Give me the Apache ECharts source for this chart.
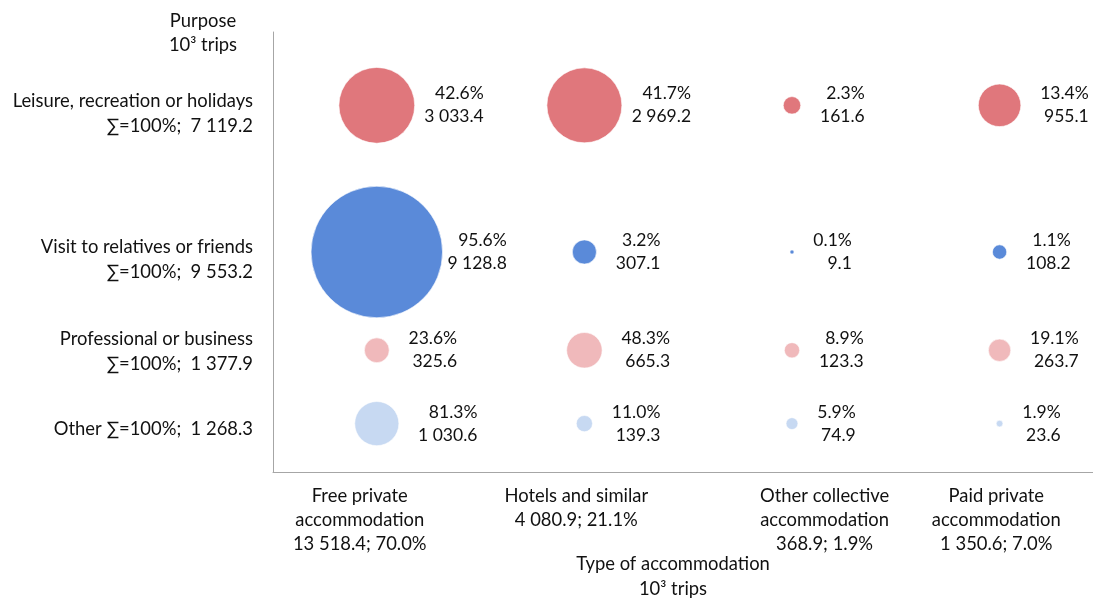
<!DOCTYPE html>
<html>
<head>
<meta charset="utf-8">
<script src="https://cdn.jsdelivr.net/npm/echarts@6/dist/echarts.min.js"></script>
<style>
html,body{margin:0;padding:0;background:#fff;}
#chart{width:1093px;height:599px;}
</style>
</head>
<body>
<div id="chart"></div>
<script>
// ---- data ----
const accommodation = ['Free private\naccommodation', 'Hotels and similar', 'Other collective\naccommodation', 'Paid private\naccommodation'];
const accTotals = [13518.4, 4080.9, 368.9, 1350.6];
const accShares = [70.0, 21.1, 1.9, 7.0];
const colPos = [1, 2, 3, 4];

const purposes = ['Leisure, recreation or holidays', 'Visit to relatives or friends', 'Professional or business', 'Other'];
const purposeTotals = [7119.2, 9553.2, 1377.9, 1268.3];
const purposeSep = ['\n', '\n', '\n', ' '];
const rowPos = [5, 3, 1.66, 0.66];

const leisureTrips = [3033.4, 2969.2, 161.6, 955.1];
const leisurePct = [42.6, 41.7, 2.3, 13.4];
const visitTrips = [9128.8, 307.1, 9.1, 108.2];
const visitPct = [95.6, 3.2, 0.1, 1.1];
const businessTrips = [325.6, 665.3, 123.3, 263.7];
const businessPct = [23.6, 48.3, 8.9, 19.1];
const otherTrips = [1030.6, 139.3, 74.9, 23.6];
const otherPct = [81.3, 11.0, 5.9, 1.9];

// ---- layout / style ----
const FONT = 'Lato, "DejaVu Sans", sans-serif';
const FS = 17.5;      // bubble labels
const FS_AX = 18.4;   // axis labels and titles
const TXT = '#111';
const xLabelAt = [0.918, 1.961, 3.157, 3.984];
const yLabelAt = [4.89, 2.895, 1.647, 0.582];
const colors = ['#E0777C', '#5A8AD9', '#F0B9BB', '#C7D9F2'];
const maxTrips = Math.max(...visitTrips, ...leisureTrips, ...businessTrips, ...otherTrips);
const MAX_D = 131.5;

function fmt(v) {
  const s = v.toFixed(1);
  const parts = s.split('.');
  return parts[0].replace(/\B(?=(\d{3})+(?!\d))/g, ' ') + '.' + parts[1];
}
function diam(v) { return MAX_D * Math.sqrt(v / maxTrips); }
function nearestIdx(arr, v) {
  let best = 0;
  for (let i = 1; i < arr.length; i++) if (Math.abs(arr[i] - v) < Math.abs(arr[best] - v)) best = i;
  return best;
}

const seriesSets = [
  [leisureTrips, leisurePct],
  [visitTrips, visitPct],
  [businessTrips, businessPct],
  [otherTrips, otherPct]
];

const series = seriesSets.map(function (set, r) {
  const trips = set[0], pct = set[1];
  return {
    type: 'scatter',
    name: purposes[r],
    itemStyle: { color: colors[r], borderColor: '#fff', borderWidth: 0.6, opacity: 1 },
    symbolSize: function (val) { return diam(val[2]); },
    data: trips.map(function (v, c) {
      const rad = diam(v) / 2;
      const gap = rad <= 22 ? 19 : 19 * Math.pow(22 / rad, 1.3);
      return {
        value: [colPos[c], rowPos[r], v, pct[c]],
        label: { distance: gap }
      };
    }),
    label: {
      show: true,
      position: 'right',
      formatter: function (p) {
        return '{r|' + p.value[3].toFixed(1) + '%}\n{r|' + fmt(p.value[2]) + '}';
      },
      rich: {
        r: { align: 'right', fontFamily: FONT, fontSize: FS, color: TXT, lineHeight: 23 }
      }
    },
    emphasis: { disabled: true },
    z: 2
  };
});

const chart = echarts.init(document.getElementById('chart'), null, { renderer: 'canvas' });
chart.setOption({
  animation: false,
  backgroundColor: '#fff',
  grid: { left: 273, top: 32, right: 0, bottom: 127, containLabel: false },
  xAxis: {
    type: 'value',
    min: 0.5,
    max: 4.45,
    axisLine: { show: true, lineStyle: { color: '#A6A6A6', width: 1 } },
    axisTick: { show: false },
    splitLine: { show: false },
    axisLabel: {
      customValues: xLabelAt,
      margin: 12,
      fontFamily: FONT,
      fontSize: FS_AX,
      color: TXT,
      lineHeight: 24,
      formatter: function (v) {
        const i = nearestIdx(xLabelAt, v);
        return accommodation[i] + '\n' + fmt(accTotals[i]) + '; ' + accShares[i].toFixed(1) + '%';
      }
    }
  },
  yAxis: {
    type: 'value',
    min: 0,
    max: 6,
    axisLine: { show: true, lineStyle: { color: '#A6A6A6', width: 1 } },
    axisTick: { show: false },
    splitLine: { show: false },
    axisLabel: {
      customValues: yLabelAt,
      margin: 20,
      fontFamily: FONT,
      fontSize: FS_AX,
      color: TXT,
      lineHeight: 25,
      formatter: function (v) {
        const i = nearestIdx(yLabelAt, v);
        return purposes[i] + purposeSep[i] + '\u2211=100%;  ' + fmt(purposeTotals[i]);
      }
    }
  },
  graphic: [
    {
      type: 'text', x: 203, y: 9,
      style: { text: 'Purpose\n10\u00B3 trips', align: 'center', verticalAlign: 'top', fontFamily: FONT, fontSize: FS_AX, lineHeight: 24, fill: TXT }
    },
    {
      type: 'text', x: 673, y: 552,
      style: { text: 'Type of accommodation\n10\u00B3 trips', align: 'center', verticalAlign: 'top', fontFamily: FONT, fontSize: FS_AX, lineHeight: 25, fill: TXT }
    }
  ],
  series: series
});
</script>
</body>
</html>
